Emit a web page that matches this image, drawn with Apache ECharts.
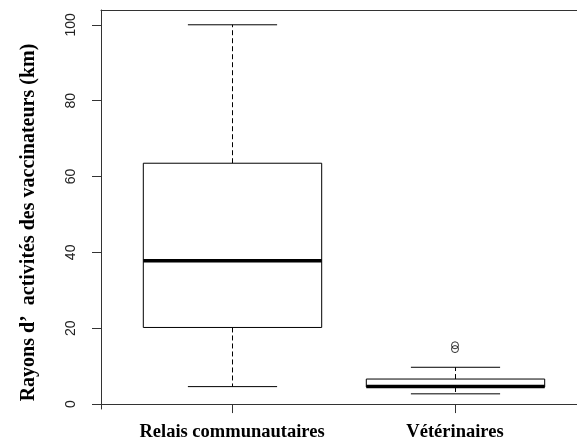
<!DOCTYPE html>
<html>
<head>
<meta charset="utf-8">
<script src="https://cdn.jsdelivr.net/npm/echarts@6/dist/echarts.min.js"></script>
<style>
html,body{margin:0;padding:0;background:#fff;}
#chart{width:577px;height:439px;}
</style>
</head>
<body>
<div id="chart"></div>
<script>
// ---- data ----
const categories = ['Relais communautaires', 'Vétérinaires'];
const whiskerLow  = [4.6, 2.7];
const q1          = [20.2, 4.5];
const median      = [37.8, 4.6];
const q3          = [63.5, 6.6];
const whiskerHigh = [100, 9.7];
const outlierCategory = [1, 1];
const outlierValues   = [14.5, 15.5];
const yTicks = [0, 20, 40, 60, 80, 100];
const yName = 'Rayons d\u2019  activités des vaccinateurs (km)';

const boxData = categories.map((c, i) => [i, whiskerLow[i], q1[i], median[i], q3[i], whiskerHigh[i]]);
const outlierData = outlierValues.map((v, i) => [outlierCategory[i], v]);

const Y_MIN = -1.3, Y_MAX = 103.9;
const lineCol = '#333';

const chart = echarts.init(document.getElementById('chart'), null, {renderer: 'canvas'});

chart.setOption({
  backgroundColor: '#fff',
  animation: false,
  grid: [
    {left: 101, top: 10, width: 500, height: 399, outerBoundsMode: 'none', containLabel: false},
    {left: 120.5, top: 10, width: 446, height: 399, outerBoundsMode: 'none', containLabel: false}
  ],
  xAxis: [
    {gridIndex: 0, type: 'value', position: 'bottom', min: 0, max: 1,
     axisLine: {show: true, lineStyle: {color: lineCol, width: 1}},
     axisTick: {show: false}, axisLabel: {show: false}, splitLine: {show: false}},
    {gridIndex: 0, type: 'value', position: 'top', min: 0, max: 1,
     axisLine: {show: true, lineStyle: {color: lineCol, width: 1}},
     axisTick: {show: false}, axisLabel: {show: false}, splitLine: {show: false}},
    {gridIndex: 1, type: 'category', data: categories, boundaryGap: true,
     axisLine: {show: false},
     axisTick: {show: true, alignWithLabel: true, interval: 0, length: 9, lineStyle: {color: lineCol, width: 1}},
     axisLabel: {interval: 0, hideOverlap: false, margin: 14, color: '#000', fontFamily: 'Liberation Serif',
                 fontWeight: 'bold', fontSize: 18.5},
     splitLine: {show: false}}
  ],
  yAxis: [
    {gridIndex: 0, type: 'value', min: Y_MIN, max: Y_MAX,
     name: yName, nameLocation: 'middle', nameGap: 62,
     nameTextStyle: {color: '#000', fontFamily: 'Liberation Serif', fontWeight: 'bold', fontSize: 20,
                     padding: [0, 26, 0, 0]},
     axisLine: {show: true, lineStyle: {color: lineCol, width: 1}},
     axisTick: {show: true, length: 9, customValues: yTicks, lineStyle: {color: lineCol, width: 1}},
     axisLabel: {show: true, customValues: yTicks, rotate: 90, margin: 23, color: '#222',
                 fontFamily: 'Liberation Sans', fontSize: 14},
     splitLine: {show: false}},
    {gridIndex: 1, type: 'value', min: Y_MIN, max: Y_MAX, show: false}
  ],
  series: [
    {
      type: 'custom',
      xAxisIndex: 2, yAxisIndex: 1,
      data: boxData,
      encode: {x: 0, y: [1, 2, 3, 4, 5]},
      renderItem: function (params, api) {
        const c = api.value(0);
        const pLow = api.coord([c, api.value(1)]);
        const pQ1 = api.coord([c, api.value(2)]);
        const pMed = api.coord([c, api.value(3)]);
        const pQ3 = api.coord([c, api.value(4)]);
        const pHigh = api.coord([c, api.value(5)]);
        const band = api.size([1, 0])[0];
        const bw = band * 0.8;
        const x = Math.round(pMed[0]) + 0.5;
        const dashed = {stroke: '#000', lineWidth: 1, lineDash: [5, 3]};
        const solid = {stroke: '#000', lineWidth: 1};
        return {
          type: 'group',
          children: [
            {type: 'line', shape: {x1: x, y1: pQ3[1], x2: x, y2: pHigh[1]}, style: dashed},
            {type: 'line', shape: {x1: x, y1: pQ1[1], x2: x, y2: pLow[1]}, style: dashed},
            {type: 'line', shape: {x1: x - bw / 4, y1: pHigh[1], x2: x + bw / 4, y2: pHigh[1]}, style: solid},
            {type: 'line', shape: {x1: x - bw / 4, y1: pLow[1], x2: x + bw / 4, y2: pLow[1]}, style: solid},
            {type: 'rect', shape: {x: x - bw / 2, y: pQ3[1], width: bw, height: pQ1[1] - pQ3[1]},
             style: {fill: '#fff', stroke: '#000', lineWidth: 1}},
            {type: 'line', shape: {x1: x - bw / 2, y1: pMed[1], x2: x + bw / 2, y2: pMed[1]},
             style: {stroke: '#000', lineWidth: 3.5}}
          ]
        };
      }
    },
    {
      type: 'scatter',
      xAxisIndex: 2, yAxisIndex: 1,
      data: outlierData,
      symbol: 'circle', symbolSize: 7,
      itemStyle: {color: 'rgba(0,0,0,0)', borderColor: '#000', borderWidth: 1}
    }
  ]
});
</script>
</body>
</html>
